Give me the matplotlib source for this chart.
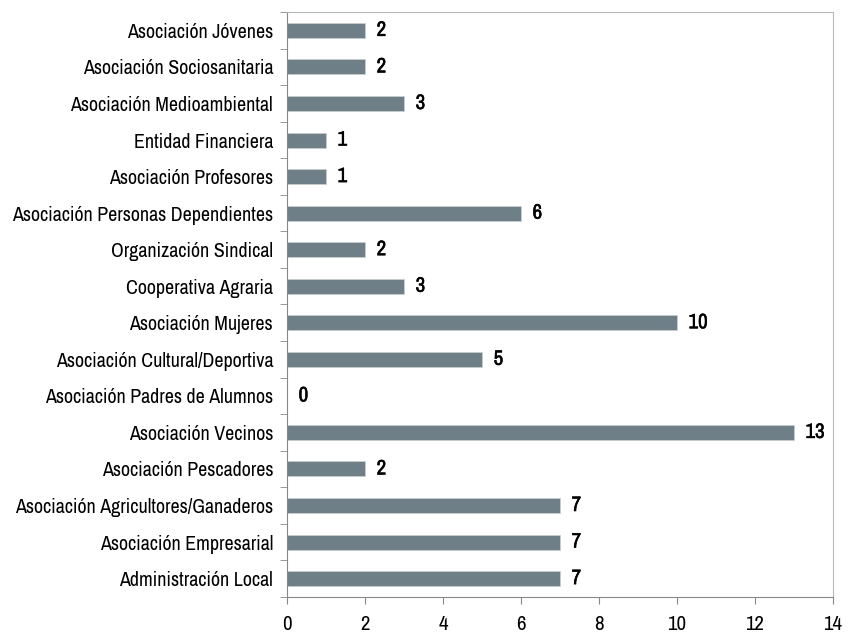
import matplotlib.pyplot as plt
import matplotlib.patheffects as pe

categorias = [
    'Administración Local',
    'Asociación Empresarial',
    'Asociación Agricultores/Ganaderos',
    'Asociación Pescadores',
    'Asociación Vecinos',
    'Asociación Padres de Alumnos',
    'Asociación Cultural/Deportiva',
    'Asociación Mujeres',
    'Cooperativa Agraria',
    'Organización Sindical',
    'Asociación Personas Dependientes',
    'Asociación Profesores',
    'Entidad Financiera',
    'Asociación Medioambiental',
    'Asociación Sociosanitaria',
    'Asociación Jóvenes',
]
valores = [7, 7, 7, 2, 13, 0, 5, 10, 3, 2, 6, 1, 1, 3, 2, 2]
ticks_x = [0, 2, 4, 6, 8, 10, 12, 14]

plt.rcParams['font.family'] = ['Archivo Narrow', 'DejaVu Sans']
plt.rcParams['font.stretch'] = 'condensed'

fig = plt.figure(figsize=(8.49, 6.37), dpi=100)
ax = fig.add_axes([0.338, 0.063, 0.643, 0.918])

y = range(len(categorias))
ax.barh(y, valores, height=0.41, color='#6f7f88', edgecolor='#c8cdd0', linewidth=0.6)

# etiquetas con el valor de cada barra
negrita = [pe.withStroke(linewidth=0.4, foreground='black')]
for i, v in enumerate(valores):
    ax.text(v + 0.3, i, str(v), va='center', ha='left', fontsize=15,
            fontweight='bold', path_effects=negrita)

ax.set_xlim(0, 14)
ax.set_ylim(-0.5, len(categorias) - 0.5)
ax.set_xticks(ticks_x)
ax.set_xticklabels([str(t) for t in ticks_x], fontsize=15)
ax.set_yticks(y)
ax.set_yticklabels(categorias, fontsize=14.4)
ax.tick_params(axis='y', length=0, pad=10)
ax.tick_params(axis='x', length=5, color='#888888', pad=8)

# marcas entre categorías
ax.set_yticks([i - 0.5 for i in range(len(categorias) + 1)], minor=True)
ax.tick_params(axis='y', which='minor', length=5, color='#888888')

for lado in ['left', 'bottom']:
    ax.spines[lado].set_color('#888888')
for lado in ['top', 'right']:
    ax.spines[lado].set_color('#b8b8b8')

plt.savefig('out.png', dpi=100)
